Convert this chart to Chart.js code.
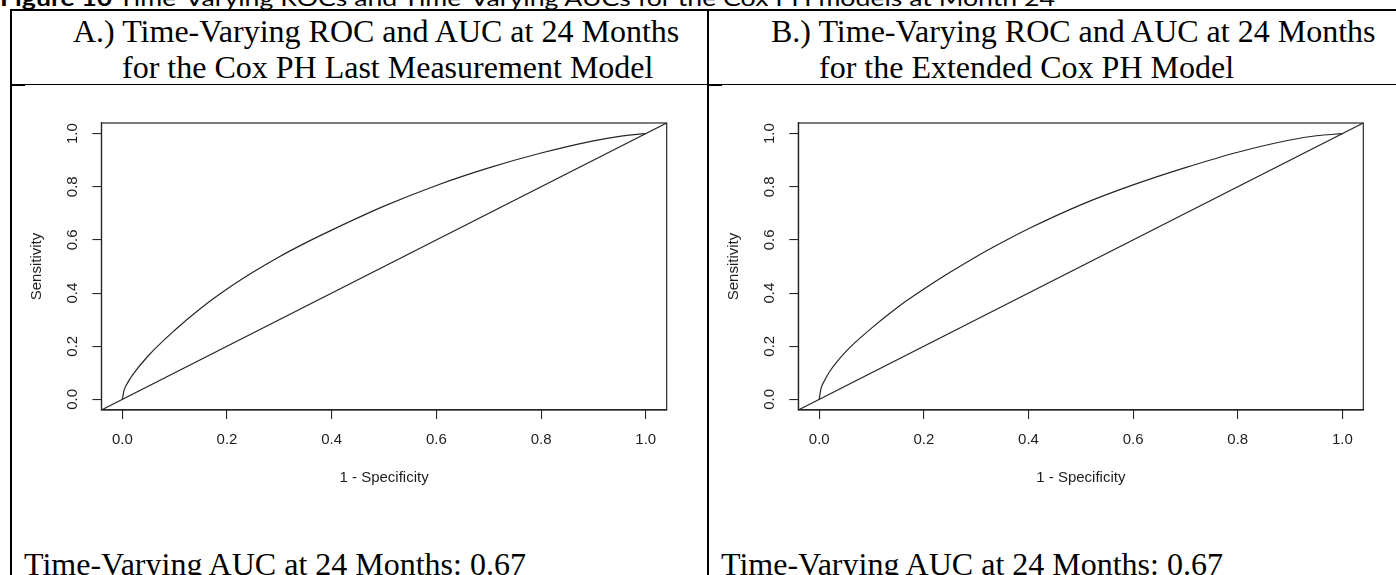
<!DOCTYPE html>
<html>
<head>
<meta charset="utf-8">
<script src="https://cdn.jsdelivr.net/npm/chart.js@4.4.1/dist/chart.umd.min.js"></script>
<style>
  html, body { margin:0; padding:0; background:#fff; width:1396px; height:575px; overflow:hidden; }
  body { position:relative; }
  .ln { position:absolute; background:#000; }
  .serif { position:absolute; font-family:"Liberation Serif","Times New Roman",serif; color:#000; white-space:nowrap; font-size:32px; line-height:36px; }
  #caption { position:absolute; left:0; top:-15px; font-family:Lato,"Open Sans",sans-serif; font-size:22px; line-height:26px; white-space:nowrap; transform-origin:0 0; color:#000; }
  canvas { position:absolute; }
</style>
</head>
<body>
<div id="caption"><b>Figure 10</b> Time-Varying ROCs and Time-Varying AUCs for the Cox PH models at Month 24</div>

<!-- table rules -->
<div class="ln" style="left:10px;top:9px;width:1386px;height:2px;"></div>
<div class="ln" style="left:10px;top:9px;width:2px;height:566px;"></div>
<div class="ln" style="left:707px;top:9px;width:2px;height:566px;"></div>
<div class="ln" style="left:10px;top:84px;width:1386px;height:1px;"></div>
<div class="ln" style="left:12px;top:85px;width:13px;height:1px;"></div>
<div class="ln" style="left:709px;top:85px;width:13px;height:1px;"></div>

<div class="serif" style="left:73px;top:13px;">A.) Time-Varying ROC and AUC at 24 Months</div>
<div class="serif" style="left:122px;top:49px;">for the Cox PH Last Measurement Model</div>
<div class="serif" style="left:771px;top:13px;">B.) Time-Varying ROC and AUC at 24 Months</div>
<div class="serif" style="left:819px;top:49px;">for the Extended Cox PH Model</div>

<canvas id="chartA" width="670" height="400" style="left:20px;top:100px;"></canvas>
<canvas id="chartB" width="670" height="400" style="left:717px;top:100px;"></canvas>

<div class="serif" style="left:24px;top:546px;">Time-Varying AUC at 24 Months: 0.67</div>
<div class="serif" style="left:721px;top:546px;">Time-Varying AUC at 24 Months: 0.67</div>

<script>
// ---- data ----
const tickValues = [0, 0.2, 0.4, 0.6, 0.8, 1.0];
const axisMin = -0.04;
const axisMax = 1.04;

const rocAX = [0, 0.003, 0.01, 0.02, 0.05, 0.1, 0.15, 0.2, 0.25, 0.3, 0.35, 0.4, 0.5, 0.6, 0.7, 0.8, 0.9, 0.95, 1];
const rocAY = [0, 0.032, 0.062, 0.093, 0.165, 0.26, 0.343, 0.415, 0.479, 0.537, 0.589, 0.637, 0.727, 0.805, 0.871, 0.927, 0.973, 0.99, 1];

const rocBX = [0, 0.003, 0.01, 0.02, 0.05, 0.1, 0.15, 0.2, 0.25, 0.3, 0.35, 0.4, 0.5, 0.6, 0.7, 0.8, 0.9, 0.95, 1];
const rocBY = [0, 0.038, 0.07, 0.105, 0.178, 0.268, 0.347, 0.415, 0.478, 0.537, 0.591, 0.642, 0.732, 0.807, 0.872, 0.93, 0.976, 0.992, 1];

const diagX = [-0.04, 1.04];
const diagY = [-0.04, 1.04];

const xTitle = '1 - Specificity';
const yTitle = 'Sensitivity';

// ---- styling ----
const LINE = '#262626';
const TXT = '#1e1e1e';
const SANS = '"Liberation Sans", Arial, Helvetica, sans-serif';

const boxPlugin = {
  id: 'box',
  afterDatasetsDraw(chart) {
    const a = chart.chartArea, c = chart.ctx;
    c.save();
    c.strokeStyle = LINE;
    c.lineWidth = 1.2;
    c.strokeRect(a.left, a.top, a.right - a.left, a.bottom - a.top);
    c.restore();
  }
};

function pts(xs, ys) { return xs.map((x, i) => ({ x: x, y: ys[i] })); }

function makeChart(id, rx, ry, padRight, yWidth) {
  return new Chart(document.getElementById(id), {
    type: 'scatter',
    data: {
      datasets: [
        { data: pts(rx, ry), showLine: true, borderColor: LINE, borderWidth: 1.2, pointRadius: 0, cubicInterpolationMode: 'monotone', fill: false },
        { data: pts(diagX, diagY), showLine: true, borderColor: LINE, borderWidth: 1.2, pointRadius: 0, fill: false }
      ]
    },
    options: {
      responsive: false,
      animation: false,
      events: [],
      layout: { padding: { top: 23, right: padRight, left: 0, bottom: 0 } },
      plugins: { legend: { display: false }, tooltip: { enabled: false } },
      scales: {
        x: {
          type: 'linear', min: axisMin, max: axisMax,
          afterBuildTicks: s => { s.ticks = tickValues.map(v => ({ value: v })); },
          afterFit: s => { s.height = 90; },
          grid: { drawOnChartArea: false, drawTicks: true, tickLength: 9, color: LINE, tickColor: LINE, lineWidth: 1.1 },
          border: { display: true, color: LINE, width: 1.2 },
          ticks: { autoSkip: false, maxRotation: 0, minRotation: 0, padding: 12, color: TXT, font: { family: SANS, size: 15 }, callback: v => Number(v).toFixed(1) },
          title: { display: true, text: xTitle, color: TXT, font: { family: SANS, size: 15 }, padding: { top: 0, bottom: 13 } }
        },
        y: {
          type: 'linear', min: axisMin, max: axisMax,
          afterBuildTicks: s => { s.ticks = tickValues.map(v => ({ value: v })); },
          afterFit: s => { s.width = yWidth; },
          grid: { drawOnChartArea: false, drawTicks: true, tickLength: 9, color: LINE, tickColor: LINE, lineWidth: 1.1 },
          border: { display: true, color: LINE, width: 1.2 },
          ticks: { autoSkip: false, minRotation: 90, maxRotation: 90, crossAlign: 'center', padding: 9, color: TXT, font: { family: SANS, size: 15 }, callback: v => Number(v).toFixed(1) },
          title: { display: true, text: yTitle, color: TXT, font: { family: SANS, size: 15 }, padding: { top: 8, bottom: 0 } }
        }
      }
    },
    plugins: [boxPlugin]
  });
}

makeChart('chartA', rocAX, rocAY, 23.3, 81.4);
makeChart('chartB', rocBX, rocBY, 23.7, 81.3);

// fit caption width
const cap = document.getElementById('caption');
const cw = cap.getBoundingClientRect().width;
cap.style.transform = 'scaleX(' + (1055 / cw) + ')';
</script>
</body>
</html>
